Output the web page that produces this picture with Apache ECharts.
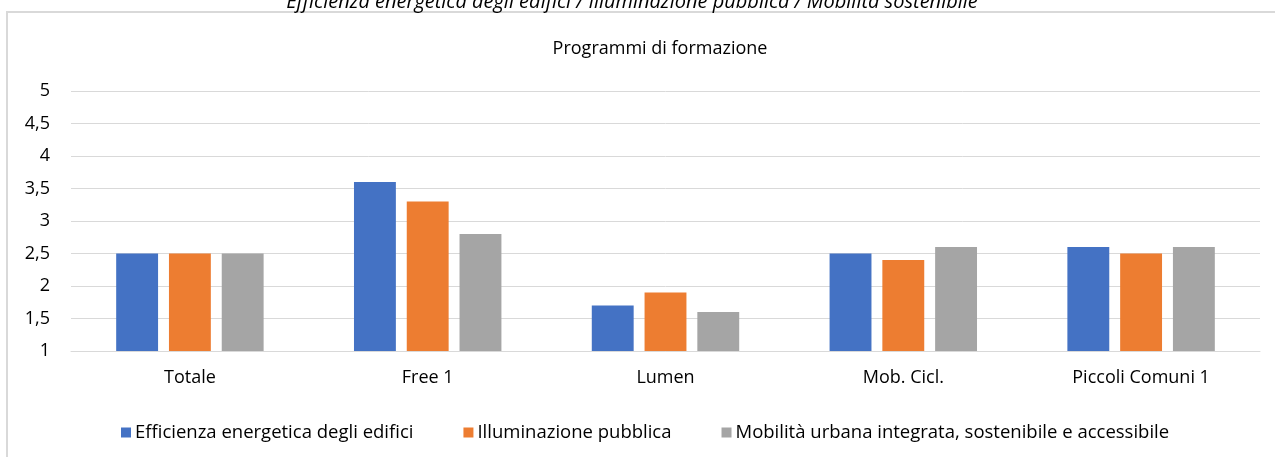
<!DOCTYPE html>
<html>
<head>
<meta charset="utf-8">
<script src="https://cdn.jsdelivr.net/npm/echarts@6/dist/echarts.min.js"></script>
<style>
    html, body { margin: 0; padding: 0; background: #fff; }
    #chart { width: 1275px; height: 457px; }
</style>
</head>
<body>
<div id="chart"></div>
<script>
    // dati
    const categories = ['Totale', 'Free 1', 'Lumen', 'Mob. Cicl.', 'Piccoli Comuni 1']
    const efficienza = [2.5, 3.6, 1.7, 2.5, 2.6]
    const illuminazione = [2.5, 3.3, 1.9, 2.4, 2.5]
    const mobilita = [2.5, 2.8, 1.6, 2.6, 2.6]
    const seriesNames = [
        'Efficienza energetica degli edifici',
        'Illuminazione pubblica',
        'Mobilità urbana integrata, sostenibile e accessibile'
    ]
    const colors = ['#4472C4', '#ED7D31', '#A5A5A5']

    const font = 'Open Sans'
    let myChart = echarts.init(document.getElementById('chart'))

    let option = {
        animation: false,
        textStyle: { fontFamily: font },
        color: colors,
        title: [
            {
                // titolo superiore tagliato dal bordo
                text: 'Efficienza energetica degli edifici / Illuminazione pubblica / Mobilità sostenibile',
                left: 627,
                textAlign: 'center',
                top: -13,
                textStyle: { fontSize: 20, fontStyle: 'italic', fontWeight: 'normal', color: '#000', fontFamily: font }
            },
            {
                text: 'Programmi di formazione',
                left: 655,
                textAlign: 'center',
                top: 35,
                textStyle: { fontSize: 18, fontWeight: 'normal', color: '#000', fontFamily: font }
            }
        ],
        graphic: [
            {
                type: 'line',
                shape: { x1: 6, y1: 12, x2: 1275, y2: 12 },
                style: { stroke: '#d9d9d9', lineWidth: 2 },
                silent: true
            },
            {
                type: 'line',
                shape: { x1: 7, y1: 12, x2: 7, y2: 457 },
                style: { stroke: '#d9d9d9', lineWidth: 2 },
                silent: true
            }
        ],
        legend: {
            data: seriesNames,
            left: 116,
            top: 418,
            icon: 'rect',
            itemWidth: 10,
            itemHeight: 10,
            itemGap: 50,
            textStyle: { fontSize: 18.5, color: '#000', fontFamily: font, padding: [0, 0, 0, -1] }
        },
        grid: { left: 71, right: 15, top: 91, bottom: 106, containLabel: false },
        xAxis: {
            type: 'category',
            data: categories,
            axisLine: { lineStyle: { color: '#d9d9d9', width: 1 } },
            axisTick: { show: false },
            axisLabel: { fontSize: 18, color: '#000', margin: 18 }
        },
        yAxis: {
            type: 'value',
            min: 1,
            max: 5,
            interval: 0.5,
            axisLine: { show: false },
            axisTick: { show: false },
            splitLine: { lineStyle: { color: '#d9d9d9', width: 1 } },
            axisLabel: {
                fontSize: 18,
                color: '#000',
                margin: 21,
                formatter: function (v) { return String(v).replace('.', ',') }
            }
        },
        series: [
            { name: seriesNames[0], type: 'bar', data: efficienza, barGap: '26%', barCategoryGap: '38%' },
            { name: seriesNames[1], type: 'bar', data: illuminazione },
            { name: seriesNames[2], type: 'bar', data: mobilita }
        ]
    }
    myChart.setOption(option)
</script>
</body>
</html>
